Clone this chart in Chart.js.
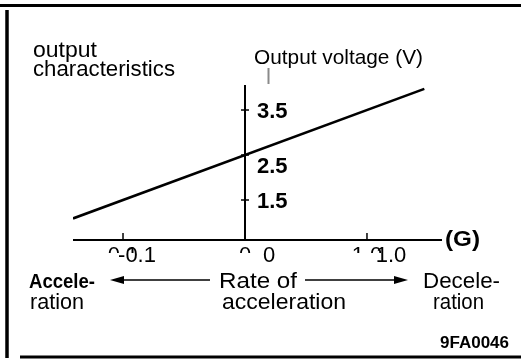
<!DOCTYPE html>
<html><head><meta charset="utf-8">
<script src="https://cdn.jsdelivr.net/npm/chart.js@4/dist/chart.umd.min.js"></script>
<style>html,body{margin:0;padding:0;background:#fff}canvas{display:block}</style>
</head><body>
<canvas id="c" width="521" height="360"></canvas>
<script>
// ---- data ----
const accelG = [-1.41, 1.47];            // rate of acceleration (G) at the line ends
const outputV = [1.09, 3.97];            // output voltage (V)
const xTickValues = [-1, 0, 1];
const xTickLabels = ['-0.1', '0', '1.0'];
const xGhostLabels = ['0.1', '0', '1.0'];
const yTickValues = [3.5, 2.5, 1.5];
const yTickLabels = ['3.5', '2.5', '1.5'];
const xRange = [-1.41, 1.615];
const yRange = [0.611, 4.056];

const FONT = '"Liberation Sans", Arial, Helvetica, sans-serif';

function txt(ctx, s, x, y, font, width) {
  ctx.font = font;
  const m = ctx.measureText(s).width;
  ctx.save();
  ctx.textAlign = 'left';
  ctx.textBaseline = 'alphabetic';
  ctx.translate(x, y);
  if (width) ctx.scale(width / m, 1);
  ctx.fillText(s, 0, 0);
  ctx.restore();
}

const drawPlugin = {
  id: 'diagram',
  afterDraw(chart) {
    const ctx = chart.ctx;
    const xs = chart.scales.x, ys = chart.scales.y;
    const area = chart.chartArea;
    const x0 = xs.getPixelForValue(0);
    ctx.save();
    ctx.strokeStyle = '#000';
    ctx.fillStyle = '#000';
    ctx.lineCap = 'butt';

    // frame
    ctx.lineWidth = 3.2;
    ctx.beginPath(); ctx.moveTo(0, 5.5); ctx.lineTo(521, 5.5); ctx.stroke();
    ctx.lineWidth = 3.5;
    ctx.beginPath(); ctx.moveTo(7, 10); ctx.lineTo(7, 358); ctx.stroke();
    ctx.lineWidth = 2.8;
    ctx.beginPath(); ctx.moveTo(20, 357); ctx.lineTo(521, 357); ctx.stroke();

    // axes
    ctx.lineWidth = 2;
    ctx.beginPath(); ctx.moveTo(x0, area.top); ctx.lineTo(x0, area.bottom); ctx.stroke();
    ctx.beginPath(); ctx.moveTo(area.left, area.bottom); ctx.lineTo(area.right, area.bottom); ctx.stroke();

    // y ticks
    ctx.lineWidth = 1.5;
    yTickValues.forEach(v => {
      const y = ys.getPixelForValue(v);
      ctx.beginPath(); ctx.moveTo(x0 - 4, y); ctx.lineTo(x0 + 4, y); ctx.stroke();
    });
    // x ticks (upward)
    xTickValues.forEach(v => {
      const x = xs.getPixelForValue(v);
      ctx.beginPath(); ctx.moveTo(x, area.bottom); ctx.lineTo(x, area.bottom - 7); ctx.stroke();
    });

    // y tick labels
    const yShift = {'2.5': 10};
    yTickValues.forEach((v, i) => {
      const y = ys.getPixelForValue(v) + (yShift[yTickLabels[i]] || 0);
      txt(ctx, yTickLabels[i], x0 + 12, y + 8, 'bold 22px ' + FONT);
    });

    // x tick labels
    const xShift = {'-0.1': 14, '0': 24, '1.0': 24};
    const base = area.bottom + 22;
    ctx.font = '22px ' + FONT;
    ctx.textAlign = 'center';
    xTickValues.forEach((v, i) => {
      const x = xs.getPixelForValue(v) + (xShift[xTickLabels[i]] || 0);
      ctx.fillText(xTickLabels[i], x, base);
    });
    // ghost tops of overprinted labels
    ctx.save();
    ctx.beginPath(); ctx.rect(0, area.bottom + 4, 521, 9); ctx.clip();
    xTickValues.forEach((v, i) => {
      ctx.fillText(xGhostLabels[i], xs.getPixelForValue(v), base);
    });
    ctx.restore();

    // axis titles
    const F = '22px ' + FONT;
    txt(ctx, 'output', 33, 57, F, 64);
    txt(ctx, 'characteristics', 33, 76, F, 142);
    txt(ctx, 'Output voltage (V)', 254, 64, '21px ' + FONT, 169);
    txt(ctx, '(G)', 445, 246, 'bold 22px ' + FONT, 35);

    // pointer under y title
    ctx.strokeStyle = '#8a8a8a';
    ctx.lineWidth = 2;
    ctx.beginPath(); ctx.moveTo(268.5, 68); ctx.lineTo(268.5, 84); ctx.stroke();

    // bottom captions
    ctx.fillStyle = '#000';
    txt(ctx, 'Accele-', 29, 288, 'bold 20px ' + FONT, 66);
    txt(ctx, 'ration', 30, 309, F, 54);
    txt(ctx, 'Rate of', 219, 288, F, 78);
    txt(ctx, 'acceleration', 222, 309, F, 124);
    txt(ctx, 'Decele-', 423, 288, F, 77);
    txt(ctx, 'ration', 433, 309, F, 51);
    txt(ctx, '9FA0046', 440, 348, 'bold 16px ' + FONT, 69);

    // arrows
    ctx.strokeStyle = '#000';
    ctx.lineWidth = 1.6;
    ctx.beginPath(); ctx.moveTo(210, 280); ctx.lineTo(118, 280); ctx.stroke();
    ctx.beginPath(); ctx.moveTo(110, 280); ctx.lineTo(124, 276); ctx.lineTo(124, 284); ctx.closePath(); ctx.fill();
    ctx.beginPath(); ctx.moveTo(305, 280); ctx.lineTo(400, 280); ctx.stroke();
    ctx.beginPath(); ctx.moveTo(408, 280); ctx.lineTo(394, 276); ctx.lineTo(394, 284); ctx.closePath(); ctx.fill();

    ctx.restore();
  }
};

new Chart(document.getElementById('c'), {
  type: 'scatter',
  data: {
    datasets: [{
      data: accelG.map((g, i) => ({x: g, y: outputV[i]})),
      showLine: true,
      borderColor: '#000',
      borderWidth: 2.6,
      pointRadius: 0,
      fill: false
    }]
  },
  options: {
    responsive: false,
    devicePixelRatio: 1,
    animation: false,
    layout: {padding: {left: 73, right: 79, top: 85, bottom: 120}},
    plugins: {legend: {display: false}, tooltip: {enabled: false}},
    scales: {
      x: {type: 'linear', min: xRange[0], max: xRange[1], display: false},
      y: {type: 'linear', min: yRange[0], max: yRange[1], display: false}
    }
  },
  plugins: [drawPlugin]
});
</script>
</body></html>
